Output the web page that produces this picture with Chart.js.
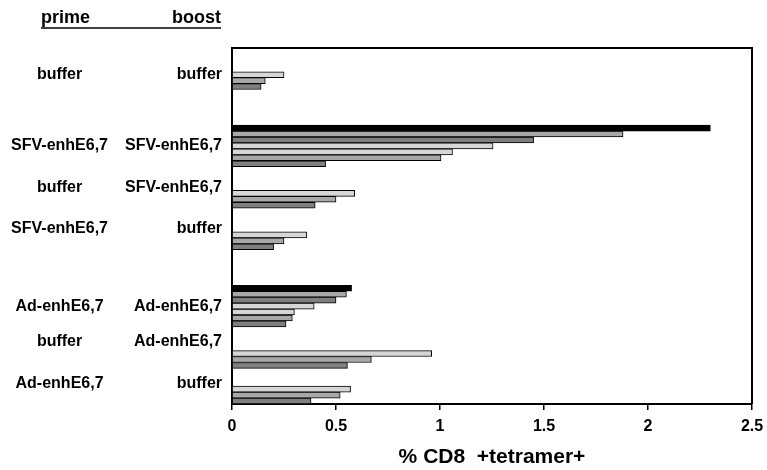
<!DOCTYPE html>
<html><head><meta charset="utf-8">
<script src="https://cdn.jsdelivr.net/npm/chart.js@4.4.1/dist/chart.umd.min.js"></script>
<style>html,body{margin:0;padding:0;background:#fff;}#wrap{width:767px;height:470px;position:relative;}</style>
</head><body><div id="wrap"><canvas id="c" width="767" height="470"></canvas></div>
<script>
// ---------- DATA ----------
const primeLabels = ['buffer', 'SFV-enhE6,7', 'buffer', 'SFV-enhE6,7', 'Ad-enhE6,7', 'buffer', 'Ad-enhE6,7'];
const boostLabels = ['buffer', 'SFV-enhE6,7', 'SFV-enhE6,7', 'buffer', 'Ad-enhE6,7', 'Ad-enhE6,7', 'buffer'];
const valuesBufBuf = [0.25, 0.16, 0.14];
const valuesSfvSfv = [2.30, 1.88, 1.45, 1.255, 1.06, 1.005, 0.45];
const valuesBufSfv = [0.59, 0.50, 0.40];
const valuesSfvBuf = [0.36, 0.25, 0.20];
const valuesAdAd   = [0.575, 0.55, 0.50, 0.395, 0.30, 0.29, 0.26];
const valuesBufAd  = [0.96, 0.67, 0.555];
const valuesAdBuf  = [0.57, 0.52, 0.38];
const groupValues = [valuesBufBuf, valuesSfvSfv, valuesBufSfv, valuesSfvBuf, valuesAdAd, valuesBufAd, valuesAdBuf];
const shades3 = ['light', 'medium', 'dark'];
const shades7 = ['black', 'medium', 'dark', 'light', 'light', 'medium', 'dark'];
const xTickValues = [0, 0.5, 1, 1.5, 2, 2.5];
const xTitle = '% CD8  +tetramer+';
const headerPrime = 'prime';
const headerBoost = 'boost';

// ---------- LAYOUT / STYLE ----------
const SLOT_COUNT = 60;
const groupStartSlot = [4, 13, 24, 31, 40, 51, 57];
const labelSlot = [4, 16, 23, 30, 43, 49, 56];
const shadeColor = { black: '#000000', medium: '#a8a8a8', dark: '#7f7f7f', light: '#d6d6d6' };
const FONT = '"Liberation Sans", Arial, Helvetica, sans-serif';

const slotValues = new Array(SLOT_COUNT).fill(null);
const slotColors = new Array(SLOT_COUNT).fill('#ffffff');
const slotBoost = new Array(SLOT_COUNT).fill('');
const slotPrime = new Array(SLOT_COUNT).fill('');
groupValues.forEach((vals, g) => {
  const shades = vals.length === 7 ? shades7 : shades3;
  vals.forEach((v, i) => {
    slotValues[groupStartSlot[g] + i] = v;
    slotColors[groupStartSlot[g] + i] = shadeColor[shades[i]];
  });
  slotBoost[labelSlot[g]] = boostLabels[g];
  slotPrime[labelSlot[g]] = primeLabels[g];
});

const framePlugin = {
  id: 'frame',
  afterDraw(chart) {
    const { ctx, chartArea: a } = chart;
    ctx.save();
    ctx.strokeStyle = '#000';
    ctx.lineWidth = 2;
    ctx.beginPath();
    ctx.moveTo(a.left - 1, a.top);
    ctx.lineTo(a.right, a.top);
    ctx.lineTo(a.right, a.bottom);
    ctx.stroke();
    ctx.fillStyle = '#000';
    ctx.font = 'bold 18px ' + FONT;
    ctx.textBaseline = 'alphabetic';
    ctx.textAlign = 'left';
    ctx.fillText(headerPrime, 41, 23);
    ctx.textAlign = 'right';
    ctx.fillText(headerBoost, 221, 23);
    ctx.lineWidth = 1.5;
    ctx.beginPath();
    ctx.moveTo(41, 28);
    ctx.lineTo(221, 28);
    ctx.stroke();
    ctx.restore();
  }
};

new Chart(document.getElementById('c'), {
  type: 'bar',
  data: {
    labels: slotBoost,
    datasets: [{
      data: slotValues,
      backgroundColor: slotColors,
      borderColor: '#000',
      borderWidth: 1,
      barPercentage: 1,
      categoryPercentage: 1
    }]
  },
  plugins: [framePlugin],
  options: {
    indexAxis: 'y',
    responsive: false,
    animation: false,
    devicePixelRatio: 1,
    layout: { padding: { top: 48, right: 15, left: 0, bottom: 0 } },
    plugins: { legend: { display: false }, tooltip: { enabled: false } },
    scales: {
      x: {
        type: 'linear',
        position: 'bottom',
        min: 0, max: 2.5,
        afterBuildTicks: s => { s.ticks = xTickValues.map(v => ({ value: v })); },
        ticks: { color: '#000', font: { family: FONT, size: 16, weight: 'bold' }, padding: 7,
                 callback: v => String(v), maxRotation: 0 },
        grid: { drawOnChartArea: false, drawTicks: true, tickLength: 6, color: '#000', lineWidth: 1.5 },
        border: { color: '#000', width: 2 },
        title: { display: true, text: xTitle, color: '#000', font: { family: FONT, size: 21, weight: 'bold' },
                 padding: { top: 6, bottom: 0 } },
        afterFit: s => { s.height = 66; s.paddingRight = 0; s.paddingLeft = 0; }
      },
      y: {
        type: 'category',
        position: 'left',
        offset: true,
        weight: 0,
        grid: { display: false, drawTicks: false },
        border: { color: '#000', width: 2 },
        ticks: { autoSkip: false, color: '#000', font: { family: FONT, size: 16, weight: 'bold' },
                 padding: 10, crossAlign: 'near' },
        afterFit: s => { s.width = 110; }
      },
      y2: {
        type: 'category',
        position: 'left',
        labels: slotPrime,
        offset: true,
        weight: 1,
        grid: { display: false, drawTicks: false },
        border: { display: false },
        ticks: { autoSkip: false, color: '#000', font: { family: FONT, size: 16, weight: 'bold' },
                 padding: 14, crossAlign: 'center' },
        afterFit: s => { s.width = 122; }
      }
    }
  }
});
</script>
</body></html>
